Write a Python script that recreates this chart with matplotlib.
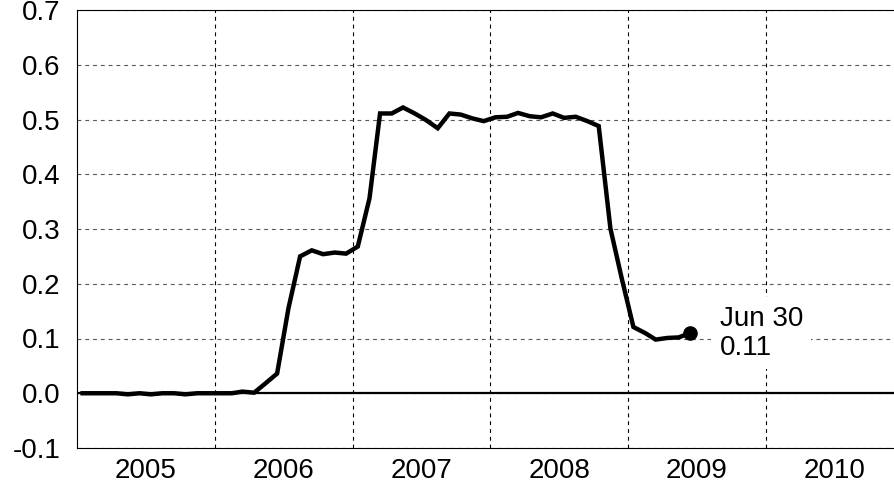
import datetime as dt

import matplotlib

matplotlib.use("Agg")
import matplotlib.dates as mdates
import matplotlib.pyplot as plt
from matplotlib.ticker import FixedLocator, NullFormatter

plt.rcParams["font.family"] = ["Liberation Sans", "DejaVu Sans"]

# monthly readings, Jan 2005 .. Jun 2009
values = [
    0.000, 0.000, 0.000, 0.000, -0.002, 0.000, -0.002, 0.000, 0.000, -0.002, 0.000, 0.000,  # 2005
    0.000, 0.000, 0.003, 0.001, 0.018, 0.036, 0.155, 0.250, 0.261, 0.254, 0.257, 0.255,  # 2006
    0.268, 0.356, 0.511, 0.511, 0.522, 0.511, 0.499, 0.484, 0.511, 0.509, 0.502, 0.497,  # 2007
    0.504, 0.505, 0.512, 0.506, 0.504, 0.511, 0.503, 0.505, 0.497, 0.488, 0.301, 0.210,  # 2008
    0.121, 0.110, 0.098, 0.101, 0.102, 0.110,  # 2009
]
start_year = 2005
years = [2005, 2006, 2007, 2008, 2009, 2010]
y_ticks = [-0.1, 0.0, 0.1, 0.2, 0.3, 0.4, 0.5, 0.6, 0.7]
last_label = "Jun 30\n0.11"

# points sit in the middle of each month
dates = []
for i in range(len(values)):
    y = start_year + i // 12
    m = i % 12 + 1
    dates.append(dt.date(y, m, 15))

fig = plt.figure(figsize=(8.95, 4.83), dpi=100)
ax = fig.add_axes([77.3 / 895, 35 / 483, (895 - 77.3) / 895, 438 / 483])

ax.plot(dates, values, color="black", lw=3.2, solid_joinstyle="miter", zorder=4)
ax.plot(dates[-1], values[-1], "o", color="black", ms=9.5, zorder=5)
ax.axhline(0, color="black", lw=1.6, zorder=3)

ax.annotate(last_label, (mdates.date2num(dates[-1]), values[-1]),
            xytext=(21, 0), textcoords="offset points", va="center", ha="left",
            fontsize=20, linespacing=1.15,
            bbox=dict(boxstyle="square,pad=0.3", fc="white", ec="none"), zorder=6)

ax.set_ylim(-0.1, 0.7)
ax.set_yticks(y_ticks)
ax.set_yticklabels([f"{v:.1f}" for v in y_ticks])

x0 = mdates.date2num(dt.date(2005, 1, 1))
x_right = x0 + 5.938 * 365.25
ax.set_xlim(x0, x_right)
bounds = [mdates.date2num(dt.date(y, 1, 1)) for y in years[1:]]
mids = [mdates.date2num(dt.date(y, 7, 2)) for y in years]
ax.xaxis.set_major_locator(FixedLocator(bounds))
ax.xaxis.set_major_formatter(NullFormatter())
ax.xaxis.set_minor_locator(FixedLocator(mids))
ax.set_xticks(mids, minor=True)
ax.set_xticklabels([str(y) for y in years], minor=True)

ax.tick_params(axis="both", which="both", length=0, labelsize=20)
ax.tick_params(axis="y", pad=12)
ax.tick_params(axis="x", which="minor", pad=7)

ax.grid(True, axis="y", color="0.35", ls=(0, (3.5, 3.5)), lw=0.8)
ax.grid(True, axis="x", which="major", color="black", ls=(0, (3.5, 3.5)), lw=0.8)

ax.spines["right"].set_visible(False)
for s in ["left", "top", "bottom"]:
    ax.spines[s].set_linewidth(0.8)
    ax.spines[s].set_color("black")

fig.savefig("out.png", dpi=100)
